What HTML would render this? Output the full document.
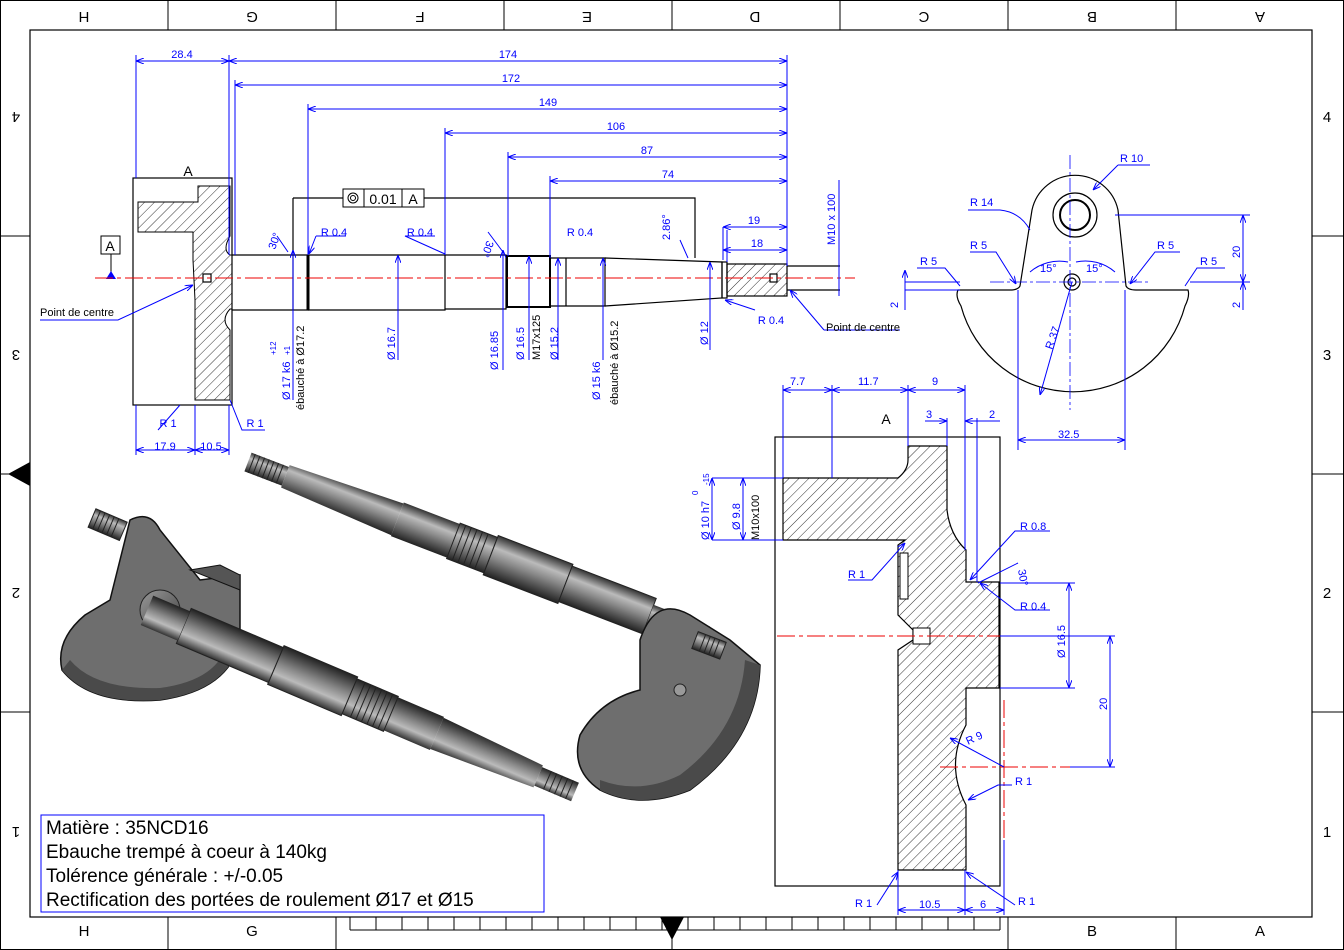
<!DOCTYPE html>
<html><head><meta charset="utf-8"><style>
html,body{margin:0;padding:0;background:#fff;}
svg{display:block;font-family:"Liberation Sans",sans-serif;}
.b{fill:none;stroke:#00f;stroke-width:1}
.k{fill:none;stroke:#000;stroke-width:1.2}
.t{fill:#00f;font-size:11px}
.tk{fill:#000;font-size:11px}
.c{stroke:#e00;stroke-width:1;stroke-dasharray:18 4 4 4;fill:none}
</style></head><body>
<svg width="1344" height="950" viewBox="0 0 1344 950" xmlns="http://www.w3.org/2000/svg">
<defs>
<pattern id="h" width="7" height="7" patternUnits="userSpaceOnUse" patternTransform="rotate(45)"><line x1="0" y1="0" x2="0" y2="7" stroke="#000" stroke-width="0.8"/></pattern>
<linearGradient id="g" x1="0" y1="0" x2="0" y2="1"><stop offset="0" stop-color="#333"/><stop offset="0.3" stop-color="#bbb"/><stop offset="0.55" stop-color="#888"/><stop offset="1" stop-color="#222"/></linearGradient>
<linearGradient id="g2" x1="0" y1="0" x2="1" y2="1"><stop offset="0" stop-color="#999"/><stop offset="1" stop-color="#444"/></linearGradient>
<marker id="a" markerWidth="8" markerHeight="6" refX="8" refY="3" orient="auto-start-reverse"><path d="M0,0 L8,3 L0,6" fill="none" stroke="#00f"/></marker>
</defs>
<rect x="0.5" y="0.5" width="1343" height="949" fill="none" stroke="#000"/>
<rect x="30" y="30" width="1282" height="887" fill="none" stroke="#000" stroke-width="1.2"/>
<g stroke="#000">
<line x1="168" y1="0" x2="168" y2="30"/><line x1="336" y1="0" x2="336" y2="30"/><line x1="504" y1="0" x2="504" y2="30"/><line x1="672" y1="0" x2="672" y2="30"/><line x1="840" y1="0" x2="840" y2="30"/><line x1="1008" y1="0" x2="1008" y2="30"/><line x1="1176" y1="0" x2="1176" y2="30"/>
<line x1="168" y1="917" x2="168" y2="950"/><line x1="336" y1="917" x2="336" y2="950"/><line x1="1008" y1="917" x2="1008" y2="950"/><line x1="1176" y1="917" x2="1176" y2="950"/>
<line x1="0" y1="236" x2="30" y2="236"/><line x1="0" y1="474" x2="30" y2="474"/><line x1="0" y1="712" x2="30" y2="712"/>
<line x1="1312" y1="236" x2="1344" y2="236"/><line x1="1312" y1="474" x2="1344" y2="474"/><line x1="1312" y1="712" x2="1344" y2="712"/>
<line x1="350" y1="930" x2="1000" y2="930"/>
</g>
<g stroke="#000">
<line x1="350" y1="917" x2="350" y2="930"/><line x1="376" y1="917" x2="376" y2="930"/><line x1="402" y1="917" x2="402" y2="930"/><line x1="428" y1="917" x2="428" y2="930"/><line x1="454" y1="917" x2="454" y2="930"/><line x1="480" y1="917" x2="480" y2="930"/><line x1="506" y1="917" x2="506" y2="930"/><line x1="532" y1="917" x2="532" y2="930"/><line x1="558" y1="917" x2="558" y2="930"/><line x1="584" y1="917" x2="584" y2="930"/><line x1="610" y1="917" x2="610" y2="930"/><line x1="636" y1="917" x2="636" y2="930"/><line x1="662" y1="917" x2="662" y2="930"/><line x1="688" y1="917" x2="688" y2="930"/><line x1="714" y1="917" x2="714" y2="930"/><line x1="740" y1="917" x2="740" y2="930"/><line x1="766" y1="917" x2="766" y2="930"/><line x1="792" y1="917" x2="792" y2="930"/><line x1="818" y1="917" x2="818" y2="930"/><line x1="844" y1="917" x2="844" y2="930"/><line x1="870" y1="917" x2="870" y2="930"/><line x1="896" y1="917" x2="896" y2="930"/><line x1="922" y1="917" x2="922" y2="930"/><line x1="948" y1="917" x2="948" y2="930"/><line x1="974" y1="917" x2="974" y2="930"/><line x1="1000" y1="917" x2="1000" y2="930"/>
</g>
<path d="M660,917 L684,917 L672,940 Z" fill="#000"/><line x1="672" y1="917" x2="672" y2="950" stroke="#000"/>
<path d="M30,462 L30,486 L8,474 Z" fill="#000"/><line x1="0" y1="474" x2="30" y2="474" stroke="#000"/>
<g font-size="15" fill="#000" text-anchor="middle">
<g transform="rotate(180 84 17)"><text x="84" y="22">H</text></g>
<g transform="rotate(180 252 17)"><text x="252" y="22">G</text></g>
<g transform="rotate(180 420 17)"><text x="420" y="22">F</text></g>
<g transform="rotate(180 587 17)"><text x="587" y="22">E</text></g>
<g transform="rotate(180 755 17)"><text x="755" y="22">D</text></g>
<g transform="rotate(180 924 17)"><text x="924" y="22">C</text></g>
<g transform="rotate(180 1092 17)"><text x="1092" y="22">B</text></g>
<g transform="rotate(180 1260 17)"><text x="1260" y="22">A</text></g>
<text x="84" y="936">H</text><text x="252" y="936">G</text><text x="1092" y="936">B</text><text x="1260" y="936">A</text>
<g transform="rotate(180 16 117)"><text x="16" y="122">4</text></g>
<g transform="rotate(180 16 355)"><text x="16" y="360">3</text></g>
<g transform="rotate(180 16 593)"><text x="16" y="598">2</text></g>
<g transform="rotate(180 16 832)"><text x="16" y="837">1</text></g>
<text x="1327" y="122">4</text><text x="1327" y="360">3</text><text x="1327" y="598">2</text><text x="1327" y="837">1</text>
</g>

<rect x="133" y="178" width="99" height="227" class="k"/>
<path d="M138,202 L198,202 L198,186 L230,186 L230,236 Q222,250 230,255 L232,255 L232,309 L230,309 Q220,320 230,330 L230,400 L195,400 L195,300 L193,260 L193,232 L138,232 Z" fill="url(#h)" stroke="#000"/>
<text x="188" y="176" font-size="14" text-anchor="middle">A</text>
<rect x="101" y="236" width="19" height="18" fill="none" stroke="#000"/><text x="110" y="251" font-size="14" text-anchor="middle">A</text>
<line x1="111" y1="254" x2="111" y2="278" stroke="#000"/><path d="M106,279 L116,279 L111,271Z" fill="#00f"/>
<g class="k">
<path d="M232,255 L308,255 L308,310 L232,310"/>
<line x1="308" y1="255" x2="308" y2="310" stroke-width="3"/>
<path d="M308,255 L445,255 L445,310 L308,310"/>
<path d="M445,255 L506,255 L506,309 L445,309"/>
<rect x="507" y="256" width="43" height="51" stroke-width="2"/>
<path d="M550,258 L605,258 L605,306 L550,306"/>
<line x1="566" y1="258" x2="566" y2="306"/>
<path d="M605,258 L722,262 L722,298 L605,306"/>
<rect x="722" y="262" width="5" height="36"/>
<rect x="727" y="264" width="60" height="32" fill="url(#h)"/>
<path d="M787,266 L840,266 M787,290 L840,290"/>
<rect x="770" y="274" width="7" height="8" fill="#fff"/>
<rect x="203" y="274" width="8" height="8" fill="#fff"/>
<path d="M293,198 L293,310 M293,198 L343,198 M424,198 L695,198 L695,258"/>
</g>
<rect x="343" y="189" width="81" height="18" fill="#fff" stroke="#000"/>
<line x1="364" y1="189" x2="364" y2="207" stroke="#000"/><line x1="402" y1="189" x2="402" y2="207" stroke="#000"/>
<circle cx="353" cy="198" r="5" fill="none" stroke="#000"/><circle cx="353" cy="198" r="2.5" fill="none" stroke="#000"/>
<text x="383" y="204" font-size="14" text-anchor="middle">0.01</text><text x="413" y="204" font-size="14" text-anchor="middle">A</text>
<line x1="95" y1="278" x2="855" y2="278" class="c"/>
<g class="b">
<line x1="136" y1="55" x2="136" y2="178"/><line x1="229" y1="55" x2="229" y2="255"/><line x1="235" y1="80" x2="235" y2="255"/>
<line x1="308" y1="104" x2="308" y2="255"/><line x1="445" y1="128" x2="445" y2="255"/><line x1="508" y1="152" x2="508" y2="256"/><line x1="550" y1="176" x2="550" y2="258"/><line x1="787" y1="55" x2="787" y2="266"/>
<line x1="136" y1="61" x2="229" y2="61" marker-start="url(#a)" marker-end="url(#a)"/>
<line x1="229" y1="61" x2="787" y2="61" marker-start="url(#a)" marker-end="url(#a)"/>
<line x1="235" y1="85" x2="787" y2="85" marker-start="url(#a)" marker-end="url(#a)"/>
<line x1="308" y1="109" x2="787" y2="109" marker-start="url(#a)" marker-end="url(#a)"/>
<line x1="445" y1="133" x2="787" y2="133" marker-start="url(#a)" marker-end="url(#a)"/>
<line x1="508" y1="157" x2="787" y2="157" marker-start="url(#a)" marker-end="url(#a)"/>
<line x1="550" y1="181" x2="787" y2="181" marker-start="url(#a)" marker-end="url(#a)"/>
<line x1="136" y1="405" x2="136" y2="455"/><line x1="195" y1="405" x2="195" y2="455"/><line x1="229" y1="405" x2="229" y2="455"/>
<line x1="136" y1="450" x2="195" y2="450" marker-start="url(#a)" marker-end="url(#a)"/>
<line x1="195" y1="450" x2="229" y2="450" marker-start="url(#a)" marker-end="url(#a)"/>
<line x1="727" y1="230" x2="727" y2="262"/><line x1="723" y1="250" x2="787" y2="250" marker-start="url(#a)" marker-end="url(#a)"/>
<line x1="723" y1="227" x2="723" y2="260"/><line x1="723" y1="227" x2="787" y2="227" marker-start="url(#a)" marker-end="url(#a)"/>
<line x1="839" y1="180" x2="839" y2="296"/>
<line x1="293" y1="250" x2="293" y2="400" marker-start="url(#a)"/>
<line x1="398" y1="255" x2="398" y2="360" marker-start="url(#a)"/>
<line x1="503" y1="250" x2="503" y2="370" marker-start="url(#a)"/>
<line x1="529" y1="256" x2="529" y2="360" marker-start="url(#a)"/>
<line x1="558" y1="258" x2="558" y2="360" marker-start="url(#a)"/>
<line x1="603" y1="258" x2="603" y2="360" marker-start="url(#a)"/>
<line x1="710" y1="262" x2="710" y2="350" marker-start="url(#a)"/>
<path d="M316,236 L346,236 M316,236 L309,254" marker-end="url(#a)"/>
<path d="M435,236 L405,236 L445,254" />
<path d="M180,405 L158,430 M230,400 L242,430 L265,430"/>
<path d="M40,320 L118,320 L193,285" marker-end="url(#a)"/>
<path d="M824,330 L900,330 M824,330 L790,290" marker-end="url(#a)"/>
<path d="M755,310 L725,300" marker-end="url(#a)"/>
<path d="M277,236 L288,252 M488,232 L503,252 M680,240 L688,258"/>
</g>
<g class="t" text-anchor="middle">
<text x="182" y="58">28.4</text><text x="508" y="58">174</text><text x="511" y="82">172</text><text x="548" y="106">149</text><text x="616" y="130">106</text><text x="647" y="154">87</text><text x="668" y="178">74</text>
<text x="165" y="450">17.9</text><text x="211" y="450">10.5</text>
<text x="754" y="224">19</text><text x="757" y="247">18</text>
<text x="334" y="236">R 0.4</text><text x="420" y="236">R 0.4</text><text x="580" y="236">R 0.4</text>
<text x="168" y="427">R 1</text><text x="255" y="427">R 1</text><text x="771" y="324">R 0.4</text>
</g>
<g class="t">
<text transform="translate(835,245) rotate(-90)">M10 x 100</text>
<text transform="translate(275,250) rotate(-70)">30°</text>
<text transform="translate(487,240) rotate(110)">30°</text>
<text transform="translate(670,240) rotate(-90)">2.86°</text>
<text transform="translate(290,400) rotate(-90)">Ø 17 k6</text><text transform="translate(276,355) rotate(-90)" font-size="8">+12</text><text transform="translate(290,355) rotate(-90)" font-size="8">+1</text>
<text transform="translate(395,360) rotate(-90)">Ø 16.7</text>
<text transform="translate(498,370) rotate(-90)">Ø 16.85</text>
<text transform="translate(524,360) rotate(-90)">Ø 16.5</text>
<text transform="translate(558,360) rotate(-90)">Ø 15.2</text>
<text transform="translate(600,400) rotate(-90)">Ø 15 k6</text>
<text transform="translate(708,345) rotate(-90)">Ø 12</text>
</g>
<g class="tk" font-size="10">
<text x="40" y="316">Point de centre</text><text x="826" y="331">Point de centre</text>
<text transform="translate(304,410) rotate(-90)">ébauché à Ø17.2</text>
<text transform="translate(540,360) rotate(-90)">M17x125</text>
<text transform="translate(618,405) rotate(-90)">ébauché à Ø15.2</text>
</g>

<g class="k">
<path d="M958,290 L1010,290 Q1018,290 1020,286 L1032,210 A44,44 0 0 1 1118,210 L1126,286 Q1128,290 1136,290 L1188,290 Q1190,296 1185,306 A116,116 0 0 1 961,306 Q955,296 958,290 Z"/>
<circle cx="1075" cy="215" r="22"/><circle cx="1075" cy="215" r="15" stroke-width="2"/>
<circle cx="1072" cy="282" r="8"/><circle cx="1072" cy="282" r="4"/>
<line x1="1070" y1="155" x2="1070" y2="410" stroke="#00f" stroke-dasharray="14 3 3 3" stroke-width="0.8"/>
<line x1="990" y1="282" x2="1150" y2="282" stroke="#00f" stroke-dasharray="14 3 3 3" stroke-width="0.8"/>
</g>
<g class="b">
<line x1="1018" y1="290" x2="1018" y2="450"/><line x1="1125" y1="290" x2="1125" y2="450"/>
<line x1="1018" y1="440" x2="1125" y2="440" marker-start="url(#a)" marker-end="url(#a)"/>
<line x1="1072" y1="282" x2="1040" y2="395" marker-end="url(#a)"/>
<line x1="1115" y1="215" x2="1250" y2="215"/><line x1="1190" y1="282" x2="1250" y2="282"/>
<line x1="1243" y1="215" x2="1243" y2="282" marker-start="url(#a)" marker-end="url(#a)"/>
<line x1="1243" y1="282" x2="1243" y2="310" marker-start="url(#a)"/>
<line x1="905" y1="282" x2="960" y2="282"/><line x1="905" y1="290" x2="960" y2="290"/>
<line x1="905" y1="270" x2="905" y2="310" marker-start="url(#a)"/>
<path d="M1118,165 L1150,165 M1118,165 L1093,190" marker-end="url(#a)"/>
<path d="M968,210 L1000,210 Q1020,212 1030,230"/>
<path d="M970,252 L996,252 L1016,284" marker-end="url(#a)"/>
<path d="M1180,252 L1155,252 L1130,284" marker-end="url(#a)"/>
<path d="M917,268 L945,268 L960,286"/><path d="M1225,268 L1197,268 L1185,286"/>
<path d="M1030,272 A45,45 0 0 1 1068,262 M1076,262 A45,45 0 0 1 1115,272"/>
</g>
<g class="t">
<text x="1120" y="162">R 10</text><text x="970" y="206">R 14</text><text x="970" y="249">R 5</text><text x="1157" y="249">R 5</text><text x="920" y="265">R 5</text><text x="1200" y="265">R 5</text>
<text x="1040" y="272">15°</text><text x="1086" y="272">15°</text><text x="1058" y="438">32.5</text>
<text transform="translate(1052,350) rotate(-70)">R 37</text>
<text transform="translate(1240,258) rotate(-90)">20</text><text transform="translate(898,308) rotate(-90)">2</text><text transform="translate(1240,308) rotate(-90)">2</text>
</g>

<rect x="775" y="437" width="225" height="449" class="k"/>
<text x="886" y="424" font-size="14" text-anchor="middle">A</text>
<path d="M908,446 L947,446 L947,510 Q950,535 966,550 L966,582 L999,582 L999,688 L966,688 L966,725 Q945,765 966,805 L966,870 L898,870 L898,650 L913,640 L913,630 L898,615 L898,545 L905,540 L783,540 L783,478 L898,478 Q908,470 908,460 Z" fill="url(#h)" stroke="#000" stroke-width="1.2"/>
<rect x="900" y="553" width="8" height="46" fill="#fff" stroke="#000"/>
<rect x="913" y="628" width="17" height="16" fill="#fff" stroke="#000"/>
<line x1="777" y1="636" x2="1000" y2="636" class="c"/><line x1="940" y1="767" x2="1070" y2="767" class="c"/><line x1="1004" y1="700" x2="1004" y2="840" class="c"/>
<g class="b">
<line x1="783" y1="385" x2="783" y2="478"/><line x1="832" y1="385" x2="832" y2="478"/><line x1="908" y1="385" x2="908" y2="446"/><line x1="965" y1="385" x2="965" y2="550"/>
<line x1="783" y1="390" x2="832" y2="390" marker-start="url(#a)" marker-end="url(#a)"/>
<line x1="832" y1="390" x2="908" y2="390" marker-start="url(#a)" marker-end="url(#a)"/>
<line x1="908" y1="390" x2="965" y2="390" marker-start="url(#a)" marker-end="url(#a)"/>
<line x1="947" y1="418" x2="947" y2="446"/><line x1="977" y1="418" x2="977" y2="582"/>
<line x1="925" y1="421" x2="947" y2="421" marker-end="url(#a)"/><line x1="965" y1="421" x2="1000" y2="421" marker-start="url(#a)"/>
<line x1="712" y1="478" x2="783" y2="478"/><line x1="712" y1="540" x2="783" y2="540"/>
<line x1="712" y1="478" x2="712" y2="540" marker-start="url(#a)" marker-end="url(#a)"/>
<line x1="743" y1="478" x2="743" y2="540" marker-start="url(#a)" marker-end="url(#a)"/>
<line x1="1000" y1="583" x2="1075" y2="583"/><line x1="1000" y1="688" x2="1075" y2="688"/>
<line x1="1069" y1="583" x2="1069" y2="688" marker-start="url(#a)" marker-end="url(#a)"/>
<line x1="1000" y1="636" x2="1115" y2="636"/><line x1="1070" y1="767" x2="1115" y2="767"/>
<line x1="1110" y1="636" x2="1110" y2="767" marker-start="url(#a)" marker-end="url(#a)"/>
<line x1="898" y1="870" x2="898" y2="915"/><line x1="965" y1="870" x2="965" y2="915"/><line x1="1004" y1="840" x2="1004" y2="915"/>
<line x1="898" y1="910" x2="965" y2="910" marker-start="url(#a)" marker-end="url(#a)"/>
<line x1="965" y1="910" x2="1004" y2="910" marker-start="url(#a)" marker-end="url(#a)"/>
<path d="M848,580 L872,580 L905,543" marker-end="url(#a)"/>
<path d="M1050,531 L1015,531 L970,580" marker-end="url(#a)"/>
<path d="M1050,610 L1015,610 L980,583" marker-end="url(#a)"/>
<path d="M1004,767 L950,738" marker-end="url(#a)"/>
<path d="M1012,785 L998,785 L968,800" marker-end="url(#a)"/>
<path d="M877,905 L898,872" marker-end="url(#a)"/>
<path d="M1015,905 L966,872" marker-end="url(#a)"/>
<path d="M978,583 L1018,563"/>
</g>
<g class="t">
<text x="790" y="385">7.7</text><text x="858" y="385">11.7</text><text x="932" y="385">9</text><text x="926" y="418">3</text><text x="989" y="418">2</text>
<text x="1020" y="530">R 0.8</text><text x="1020" y="610">R 0.4</text><text x="848" y="578">R 1</text><text x="1015" y="785">R 1</text><text x="855" y="907">R 1</text><text x="1018" y="905">R 1</text>
<text x="919" y="908">10.5</text><text x="980" y="908">6</text>
<text transform="translate(968,745) rotate(-25)">R 9</text>
<text transform="translate(1018,570) rotate(80)">30°</text>
<text transform="translate(1065,658) rotate(-90)">Ø 16.5</text>
<text transform="translate(1107,710) rotate(-90)">20</text>
<text transform="translate(709,540) rotate(-90)">Ø 10 h7</text><text transform="translate(698,495) rotate(-90)" font-size="8">0</text><text transform="translate(709,485) rotate(-90)" font-size="8">-15</text>
<text transform="translate(740,530) rotate(-90)">Ø 9.8</text>
</g>
<text transform="translate(759,540) rotate(-90)" class="tk" font-size="10">M10x100</text>

<!-- 3D render top-right shaft -->
<g transform="translate(248,462) rotate(21)">
<rect x="0" y="-10" width="40" height="20" fill="url(#g)"/>
<g stroke="#222" stroke-width="1"><line x1="4" y1="-10" x2="4" y2="10"/><line x1="9" y1="-10" x2="9" y2="10"/><line x1="14" y1="-10" x2="14" y2="10"/><line x1="19" y1="-10" x2="19" y2="10"/><line x1="24" y1="-10" x2="24" y2="10"/><line x1="29" y1="-10" x2="29" y2="10"/><line x1="34" y1="-10" x2="34" y2="10"/></g>
<path d="M40,-12 L160,-17 L160,17 L40,12Z" fill="url(#g)"/>
<rect x="160" y="-18" width="60" height="36" fill="url(#g)"/>
<rect x="220" y="-19" width="40" height="38" fill="url(#g)" stroke="#222"/>
<g stroke="#222"><line x1="226" y1="-19" x2="226" y2="19"/><line x1="232" y1="-19" x2="232" y2="19"/><line x1="238" y1="-19" x2="238" y2="19"/><line x1="244" y1="-19" x2="244" y2="19"/><line x1="250" y1="-19" x2="250" y2="19"/></g>
<rect x="260" y="-21" width="80" height="42" fill="url(#g)" stroke="#222"/>
<rect x="340" y="-19" width="90" height="38" fill="url(#g)" stroke="#222"/>
<rect x="430" y="-12" width="60" height="24" fill="url(#g)"/>
</g>
<path d="M640,640 Q655,595 690,615 L730,640 L760,665 Q758,740 690,790 Q640,810 600,790 Q570,770 580,735 Q600,700 640,690 Z" fill="#6e6e6e" stroke="#111" stroke-width="1.5"/>
<path d="M600,790 Q640,810 690,790 Q758,740 760,665 L745,660 Q740,730 680,775 Q640,795 600,780Z" fill="#4a4a4a"/>
<circle cx="680" cy="690" r="6" fill="#999" stroke="#222"/>
<g transform="translate(695,640) rotate(21)"><rect x="0" y="-9" width="30" height="18" fill="url(#g)" stroke="#222"/><g stroke="#222"><line x1="8" y1="-9" x2="8" y2="9"/><line x1="13" y1="-9" x2="13" y2="9"/><line x1="18" y1="-9" x2="18" y2="9"/><line x1="23" y1="-9" x2="23" y2="9"/></g></g>
<!-- 3D left crank -->
<path d="M130,520 Q150,510 160,530 L200,580 L240,575 L240,640 Q230,690 160,700 Q90,705 62,670 Q55,640 85,615 L110,600 Z" fill="#6e6e6e" stroke="#111" stroke-width="1.5"/>
<path d="M62,670 Q90,705 160,700 Q230,690 240,640 L228,640 Q220,680 160,688 Q95,690 70,660Z" fill="#4a4a4a"/>
<g transform="translate(92,518) rotate(23)"><rect x="0" y="-10" width="34" height="20" fill="url(#g)" stroke="#222"/><g stroke="#222"><line x1="5" y1="-10" x2="5" y2="10"/><line x1="10" y1="-10" x2="10" y2="10"/><line x1="15" y1="-10" x2="15" y2="10"/><line x1="20" y1="-10" x2="20" y2="10"/><line x1="25" y1="-10" x2="25" y2="10"/></g></g>
<circle cx="160" cy="610" r="20" fill="url(#g2)" stroke="#222"/>
<g transform="translate(575,792) rotate(203)">
<rect x="0" y="-10" width="40" height="20" fill="url(#g)"/>
<g stroke="#222"><line x1="6" y1="-10" x2="6" y2="10"/><line x1="12" y1="-10" x2="12" y2="10"/><line x1="18" y1="-10" x2="18" y2="10"/><line x1="24" y1="-10" x2="24" y2="10"/><line x1="30" y1="-10" x2="30" y2="10"/></g>
<path d="M40,-12 L150,-17 L150,17 L40,12Z" fill="url(#g)"/>
<rect x="150" y="-18" width="50" height="36" fill="url(#g)"/>
<rect x="200" y="-19" width="45" height="38" fill="url(#g)" stroke="#222"/>
<g stroke="#222"><line x1="206" y1="-19" x2="206" y2="19"/><line x1="212" y1="-19" x2="212" y2="19"/><line x1="218" y1="-19" x2="218" y2="19"/><line x1="224" y1="-19" x2="224" y2="19"/><line x1="230" y1="-19" x2="230" y2="19"/><line x1="236" y1="-19" x2="236" y2="19"/></g>
<rect x="245" y="-21" width="80" height="42" fill="url(#g)" stroke="#222"/>
<rect x="325" y="-19" width="100" height="38" fill="url(#g)" stroke="#222"/>
<rect x="425" y="-16" width="40" height="32" fill="url(#g)"/>
</g>
<path d="M190,570 L220,565 L240,575 L240,590 Z" fill="#555" stroke="#111"/>

<rect x="41" y="815" width="503" height="97" fill="#fff" stroke="#00f"/>
<g font-size="19" fill="#000">
<text x="46" y="834">Matière : 35NCD16</text>
<text x="46" y="858">Ebauche trempé à coeur à 140kg</text>
<text x="46" y="882">Tolérence générale : +/-0.05</text>
<text x="46" y="906">Rectification des portées de roulement Ø17 et Ø15</text>
</g>
</svg>
</body></html>
